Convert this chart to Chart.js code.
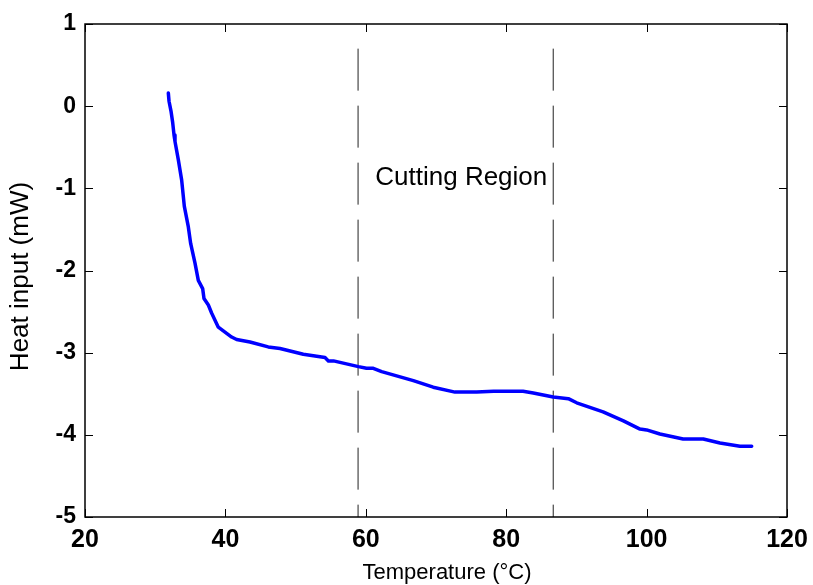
<!DOCTYPE html>
<html>
<head>
<meta charset="utf-8">
<script src="https://cdn.jsdelivr.net/npm/chart.js@4.4.1/dist/chart.umd.min.js"></script>
<style>
html,body{margin:0;padding:0;background:#fff;}
#wrap{width:813px;height:585px;position:relative;}
</style>
</head>
<body>
<div id="wrap"><canvas id="c" width="813" height="585"></canvas></div>
<script>
// Data
const temperature = [31.87, 31.97, 32.25, 32.49, 32.68, 32.82, 33.29, 33.77, 34.15, 34.72, 35.05, 35.67, 36.14, 36.76, 36.95, 37.57, 38.05, 38.99, 39.94, 40.89, 41.6, 43.5, 46.1, 47.78, 51.1, 54.19, 54.67, 55.4, 58.95, 60.1, 61.07, 62.26, 66.77, 69.6, 72.7, 75.8, 78.2, 82.4, 83.86, 86.7, 88.85, 90.04, 93.8, 96.7, 99.06, 100.0, 101.9, 105.2, 108.08, 110.45, 113.3, 114.97];
const heatInput = [0.16, 0.06, -0.06, -0.20, -0.35, -0.43, -0.65, -0.90, -1.22, -1.47, -1.67, -1.91, -2.12, -2.22, -2.34, -2.42, -2.52, -2.69, -2.75, -2.81, -2.84, -2.87, -2.93, -2.95, -3.02, -3.06, -3.10, -3.10, -3.17, -3.19, -3.19, -3.23, -3.34, -3.42, -3.48, -3.48, -3.47, -3.47, -3.49, -3.54, -3.56, -3.61, -3.72, -3.83, -3.93, -3.94, -3.99, -4.05, -4.05, -4.10, -4.14, -4.14];
const regionBounds = [58.9, 86.7];
const regionLineY = [0.7, -5];
const regionLabel = "Cutting Region";
const regionLabelPos = [73.6, -0.87];
const xTicks = [20, 40, 60, 80, 100, 120];
const yTicks = [1, 0, -1, -2, -3, -4, -5];
const xTitle = "Temperature (°C)";
const yTitle = "Heat input (mW)";

const FONT = '"Liberation Sans", Arial, Helvetica, sans-serif';
const curve = temperature.map((t, i) => ({x: t, y: heatInput[i]}));
const regionSets = regionBounds.map(b => ({
  data: regionLineY.map(v => ({x: b, y: v})),
  borderColor: '#222',
  borderWidth: 1,
  borderDash: [42, 15],
  pointRadius: 0,
  showLine: true,
  tension: 0
}));

const boxPlugin = {
  id: 'box',
  afterDatasetsDraw(chart) {
    const ctx = chart.ctx;
    const a = chart.chartArea;
    const xs = chart.scales.x, ys = chart.scales.y;
    ctx.save();
    ctx.strokeStyle = '#000';
    ctx.lineWidth = 1.5;
    ctx.strokeRect(a.left, a.top, a.right - a.left, a.bottom - a.top);
    ctx.lineWidth = 1;
    const tl = 8;
    xTicks.forEach(v => {
      const px = Math.round(xs.getPixelForValue(v)) + 0.5;
      ctx.beginPath();
      ctx.moveTo(px, a.bottom); ctx.lineTo(px, a.bottom - tl);
      ctx.moveTo(px, a.top); ctx.lineTo(px, a.top + tl);
      ctx.stroke();
    });
    yTicks.forEach(v => {
      const py = Math.round(ys.getPixelForValue(v)) + 0.5;
      ctx.beginPath();
      ctx.moveTo(a.left, py); ctx.lineTo(a.left + tl, py);
      ctx.moveTo(a.right, py); ctx.lineTo(a.right - tl, py);
      ctx.stroke();
    });
    ctx.fillStyle = '#000';
    ctx.font = '26px ' + FONT;
    ctx.textAlign = 'center';
    ctx.textBaseline = 'middle';
    ctx.fillText(regionLabel, xs.getPixelForValue(regionLabelPos[0]), ys.getPixelForValue(regionLabelPos[1]));
    // axis titles
    ctx.font = '22px ' + FONT;
    ctx.fillText(xTitle, (a.left + a.right) / 2 + 11, a.bottom + 56);
    ctx.save();
    ctx.translate(21, (a.top + a.bottom) / 2 + 6);
    ctx.rotate(-Math.PI / 2);
    ctx.font = '26px ' + FONT;
    ctx.fillText(yTitle, 0, 0);
    ctx.restore();
    ctx.restore();
  }
};

new Chart(document.getElementById('c'), {
  type: 'scatter',
  data: {
    datasets: [{
      data: curve,
      borderColor: '#0000FF',
      borderWidth: 3.5,
      pointRadius: 0,
      showLine: true,
      tension: 0,
      borderJoinStyle: 'round',
      borderCapStyle: 'round'
    }].concat(regionSets)
  },
  options: {
    responsive: false,
    animation: false,
    layout: {padding: {top: 24, right: 26, left: 0, bottom: 0}},
    plugins: {legend: {display: false}, tooltip: {enabled: false}},
    scales: {
      x: {
        type: 'linear', min: 20, max: 120,
        afterBuildTicks(s) { s.ticks = xTicks.map(v => ({value: v})); },
        afterFit(s) { s.height = 68; s.paddingLeft = 0; s.paddingRight = 0; },
        grid: {display: false, drawTicks: false},
        border: {display: false},
        ticks: {
          padding: 8, color: '#000', maxRotation: 0,
          font: {family: FONT, size: 25, weight: 'bold'}
        },
        title: {display: false}
      },
      y: {
        type: 'linear', min: -5, max: 1,
        afterBuildTicks(s) { s.ticks = yTicks.map(v => ({value: v})); },
        afterFit(s) { s.width = 85; s.paddingTop = 0; s.paddingBottom = 0; },
        grid: {display: false, drawTicks: false},
        border: {display: false},
        ticks: {
          padding: 9, color: '#000',
          font: {family: FONT, size: 23, weight: 'bold'}
        },
        title: {display: false}
      }
    }
  },
  plugins: [boxPlugin]
});
</script>
</body>
</html>
